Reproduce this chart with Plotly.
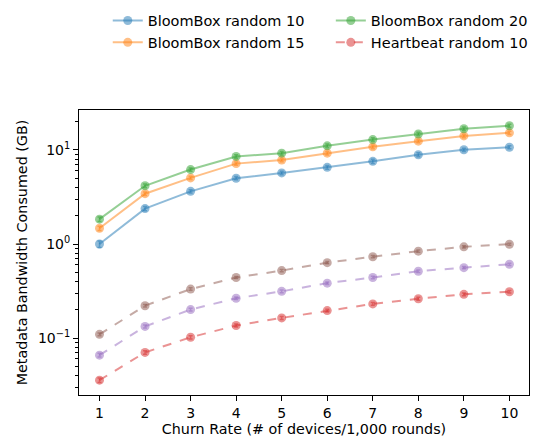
import plotly.graph_objects as go

churn = [1, 2, 3, 4, 5, 6, 7, 8, 9, 10]

bb10 = [1.00, 2.38, 3.63, 5.01, 5.70, 6.54, 7.57, 8.90, 10.05, 10.7]
bb15 = [1.47, 3.43, 5.05, 7.16, 7.81, 9.25, 10.8, 12.4, 14.1, 15.2]
bb20 = [1.84, 4.16, 6.19, 8.54, 9.25, 11.07, 12.9, 14.8, 16.8, 18.1]
hb10 = [0.0357, 0.0704, 0.102, 0.136, 0.164, 0.196, 0.231, 0.262, 0.292, 0.311]
hb15 = [0.0659, 0.133, 0.201, 0.265, 0.314, 0.384, 0.441, 0.514, 0.561, 0.609]
hb20 = [0.1096, 0.221, 0.332, 0.441, 0.522, 0.634, 0.733, 0.840, 0.934, 0.995]

bb10_err = [0.08, 0.12, 0.15, 0.2, 0.25, 0.3, 0.4, 0.45, 0.4, 0.4]
bb15_err = [0.08, 0.15, 0.2, 0.3, 0.3, 0.4, 0.5, 0.5, 0.6, 0.6]
bb20_err = [0.1, 0.2, 0.25, 0.35, 0.4, 0.5, 0.55, 0.6, 0.7, 0.7]
hb10_err = [0.002, 0.003, 0.004, 0.005, 0.006, 0.007, 0.008, 0.009, 0.01, 0.01]
hb15_err = [0.003, 0.005, 0.007, 0.008, 0.01, 0.012, 0.013, 0.015, 0.016, 0.017]
hb20_err = [0.004, 0.007, 0.01, 0.012, 0.015, 0.018, 0.02, 0.022, 0.025, 0.027]

names = ["BloomBox random 10", "BloomBox random 15", "BloomBox random 20",
         "Heartbeat random 10", "Heartbeat random 15", "Heartbeat random 20"]
series = [bb10, bb15, bb20, hb10, hb15, hb20]
errors = [bb10_err, bb15_err, bb20_err, hb10_err, hb15_err, hb20_err]
colors = ["rgba(31,119,180,0.5)", "rgba(255,127,14,0.5)", "rgba(44,160,44,0.5)",
          "rgba(214,39,40,0.5)", "rgba(148,103,189,0.5)", "rgba(140,86,75,0.5)"]
dashes = ["solid", "solid", "solid", "dash", "dash", "dash"]
show = [True, True, True, True, False, False]
legends = ["legend", "legend", "legend2", "legend2", "legend", "legend"]

FONT = "DejaVu Sans"

fig = go.Figure()
for name, y, err, c, d, s, lg in zip(names, series, errors, colors, dashes, show, legends):
    fig.add_trace(go.Scatter(
        x=churn, y=y, name=name, mode="lines+markers",
        line=dict(color=c, width=2, dash=d),
        marker=dict(color=c, size=9, line=dict(width=0)),
        error_y=dict(type="data", array=err, visible=True, color=c, thickness=1.5, width=2),
        showlegend=s, legend=lg,
    ))

minor_vals = [m * 10 ** e for e in (-2, -1, 0, 1) for m in range(2, 10)]

leg_common = dict(orientation="v", y=1.37, xref="paper", yref="paper",
                  yanchor="top", tracegroupgap=0,
                  font=dict(size=14.5, family=FONT), bgcolor="rgba(0,0,0,0)")

fig.update_layout(
    width=537, height=444,
    margin=dict(l=79, r=4, t=107, b=49),
    paper_bgcolor="white", plot_bgcolor="white",
    font=dict(family=FONT, size=14, color="black"),
    showlegend=True,
    legend=dict(x=0.0639, xanchor="left", **leg_common),
    legend2=dict(x=1.0085, xanchor="right", **leg_common),
    xaxis=dict(
        range=[0.55, 10.43], tickvals=churn, ticks="outside", ticklen=5,
        tickcolor="black", showline=True, linecolor="black", linewidth=1,
        mirror=True, showgrid=False, zeroline=False,
        title=dict(text="Churn Rate (# of devices/1,000 rounds)", standoff=4,
                   font=dict(size=14.3)),
        tickfont=dict(size=14),
    ),
    yaxis=dict(
        type="log", range=[-1.605, 1.425],
        tickvals=[0.1, 1, 10], ticktext=["10<sup>−1</sup>", "10<sup>0</sup>", "10<sup>1</sup>"],
        ticks="outside", ticklen=5, tickcolor="black",
        showline=True, linecolor="black", linewidth=1, mirror=True,
        showgrid=False, zeroline=False,
        minor=dict(tickvals=minor_vals, ticks="outside", ticklen=3,
                   tickcolor="black", showgrid=False),
        title=dict(text="Metadata Bandwidth Consumed (GB)", standoff=6,
                   font=dict(size=14.3)),
        tickfont=dict(size=14),
    ),
)

fig.write_html("out.html")
